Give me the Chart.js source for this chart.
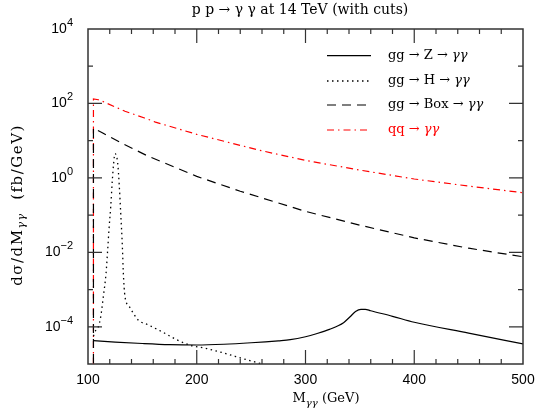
<!DOCTYPE html>
<html>
<head>
<meta charset="utf-8">
<script src="https://cdn.jsdelivr.net/npm/chart.js@4"></script>
<style>
  body { margin: 0; background: #fff; }
</style>
</head>
<body>
<canvas id="xsecChart" width="535" height="415"></canvas>
<script>
// gg -> Z -> yy (solid)
const massZ = [105, 125, 150, 175, 200, 225, 250, 275, 286, 300, 310, 322, 335, 341, 346, 351, 355, 360, 380, 400, 450, 500];
const xsecZ = [4.27e-5, 3.89e-5, 3.55e-5, 3.31e-5, 3.24e-5, 3.39e-5, 3.72e-5, 4.2e-5, 4.5e-5, 5.4e-5, 6.5e-5, 8.5e-5, 1.29e-4, 1.86e-4, 2.57e-4, 2.95e-4, 2.95e-4, 2.69e-4, 1.91e-4, 1.32e-4, 6.76e-5, 3.47e-5];

// gg -> H -> yy (dotted)
const massH = [105, 107, 109.5, 111.7, 114.1, 116.6, 118.1, 119.3, 120.9, 122.4, 123.6, 124.8, 127.3, 128.8, 130.1, 131.6, 132.5, 134, 138, 141.7, 146.3, 155.5, 167.8, 181.6, 193.8, 209.1, 221.4, 246, 260, 275];
const xsecH = [5.6e-5, 7.9e-5, 1.0e-4, 1.86e-4, 6.5e-4, 2.75e-3, 1.17e-2, 4.1e-2, 0.17, 0.89, 2.5, 4.5, 2.5, 0.59, 0.11, 1.45e-2, 2.75e-3, 6.5e-4, 3.5e-4, 2.3e-4, 1.5e-4, 1.12e-4, 7.4e-5, 4.5e-5, 3.2e-5, 2.6e-5, 2.1e-5, 1.3e-5, 1.0e-5, 7e-6];

// gg -> Box -> yy (dashed)
const massBox = [105, 105, 114, 130, 154, 200, 240, 258, 300, 350, 400, 450, 500];
const xsecBox = [1e-9, 21.9, 15.8, 8.9, 3.98, 1.10, 0.437, 0.302, 0.126, 0.0537, 0.0245, 0.0129, 0.00759];

// qq -> yy (red dash-dot)
const massQQ = [105, 105, 109.5, 114, 117, 134, 152, 162, 200, 258, 300, 350, 400, 450, 500];
const xsecQQ = [1e-9, 132, 126, 112, 102, 61.7, 40.7, 31.6, 14.8, 5.5, 2.95, 1.62, 0.933, 0.603, 0.398];

const xMajor = [200, 300, 400];
const xMinor = [120, 140, 160, 180, 220, 240, 260, 280, 320, 340, 360, 380, 420, 440, 460, 480];
const yMajor = [1e-4, 1e-2, 1, 1e2];
const yMinor = [1e-3, 1e-1, 1e1, 1e3];
const yLabelValues = [1e4, 1e2, 1, 1e-2, 1e-4];
const yLabelExps = ["4", "2", "0", "\u22122", "\u22124"];

const legendLabels = [
  { main: "gg \u2192 Z \u2192 ", tail: "\u03b3\u03b3" },
  { main: "gg \u2192 H \u2192 ", tail: "\u03b3\u03b3" },
  { main: "gg \u2192 Box \u2192 ", tail: "\u03b3\u03b3" },
  { main: "qq \u2192 ", tail: "\u03b3\u03b3" },
];

const toPoints = (xs, ys) => xs.map((x, i) => ({ x: x, y: ys[i] }));

const SERIF = "'DejaVu Serif', serif";
const SANS = "'Liberation Sans', Arial, sans-serif";

// draws a list of text pieces, each with own font and vertical shift
function drawPieces(ctx, pieces, x, y, align) {
  let total = 0;
  pieces.forEach((p) => {
    ctx.font = p.font;
    p.w = ctx.measureText(p.t).width;
    total += p.w;
  });
  let cx = align === "center" ? x - total / 2 : align === "right" ? x - total : x;
  pieces.forEach((p) => {
    ctx.font = p.font;
    ctx.fillText(p.t, cx, y + (p.dy || 0));
    cx += p.w;
  });
}

const framePlugin = {
  id: "frameAndLabels",
  afterDraw(chart) {
    const ctx = chart.ctx;
    const area = chart.chartArea;
    const xs = chart.scales.x;
    const ys = chart.scales.y;
    ctx.save();

    // frame
    ctx.strokeStyle = "#333";
    ctx.lineWidth = 1.5;
    ctx.strokeRect(area.left, area.top, area.right - area.left, area.bottom - area.top);

    // inward ticks
    ctx.lineWidth = 1.2;
    ctx.beginPath();
    const xTick = (v, len) => {
      const px = xs.getPixelForValue(v);
      ctx.moveTo(px, area.bottom);
      ctx.lineTo(px, area.bottom - len);
      ctx.moveTo(px, area.top);
      ctx.lineTo(px, area.top + len);
    };
    const yTick = (v, len) => {
      const py = ys.getPixelForValue(v);
      ctx.moveTo(area.left, py);
      ctx.lineTo(area.left + len, py);
      ctx.moveTo(area.right, py);
      ctx.lineTo(area.right - len, py);
    };
    xMajor.forEach((v) => xTick(v, 14));
    xMinor.forEach((v) => xTick(v, 5));
    yMajor.forEach((v) => yTick(v, 14));
    yMinor.forEach((v) => yTick(v, 5));
    ctx.stroke();

    ctx.fillStyle = "#000";
    ctx.textBaseline = "middle";

    // y tick labels with superscripts
    yLabelValues.forEach((v, i) => {
      const py = ys.getPixelForValue(v);
      drawPieces(ctx, [
        { t: "10", font: "14px " + SANS },
        { t: yLabelExps[i], font: "11px " + SANS, dy: -6 },
      ], area.left - 15, py, "right");
    });

    // title
    drawPieces(ctx, [
      { t: "p p \u2192 \u03b3 \u03b3 at 14 TeV (with cuts)", font: "14px " + SERIF },
    ], 300, 10, "center");

    // x axis title
    drawPieces(ctx, [
      { t: "M", font: "13px " + SERIF },
      { t: "\u03b3\u03b3", font: "italic 10px " + SERIF, dy: 4 },
      { t: " (GeV)", font: "13px " + SERIF },
    ], 326, 399, "center");

    // y axis title
    ctx.save();
    ctx.translate(18, 205);
    ctx.rotate(-Math.PI / 2);
    ctx.letterSpacing = "1.5px";
    drawPieces(ctx, [
      { t: "d\u03c3/dM", font: "15px " + SERIF },
      { t: "\u03b3\u03b3", font: "italic 11px " + SERIF, dy: 4 },
      { t: "  (fb/GeV)", font: "15px " + SERIF },
    ], 0, 0, "center");
    ctx.restore();

    // legend
    const rows = [26.7, 52, 76, 101];
    chart.data.datasets.forEach((ds, i) => {
      const ly = area.top + rows[i];
      ctx.strokeStyle = ds.borderColor;
      ctx.lineWidth = ds.borderWidth;
      ctx.setLineDash(ds.borderDash || []);
      ctx.beginPath();
      ctx.moveTo(area.left + 239, ly);
      ctx.lineTo(area.left + 283, ly);
      ctx.stroke();
      ctx.setLineDash([]);
      ctx.fillStyle = ds.borderColor;
      drawPieces(ctx, [
        { t: legendLabels[i].main, font: "13px " + SERIF },
        { t: legendLabels[i].tail, font: "italic 13px " + SERIF },
      ], area.left + 300, ly, "left");
    });

    ctx.restore();
  },
};

const ctx = document.getElementById("xsecChart");

new Chart(ctx, {
  type: "line",
  data: {
    datasets: [
      {
        label: "gg -> Z -> yy",
        data: toPoints(massZ, xsecZ),
        borderColor: "#000",
        borderWidth: 1.2,
        cubicInterpolationMode: "monotone",
      },
      {
        label: "gg -> H -> yy",
        data: toPoints(massH, xsecH),
        borderColor: "#000",
        borderWidth: 1.3,
        borderDash: [1.5, 3.5],
        cubicInterpolationMode: "monotone",
      },
      {
        label: "gg -> Box -> yy",
        data: toPoints(massBox, xsecBox),
        borderColor: "#000",
        borderWidth: 1.2,
        borderDash: [9, 6],
        tension: 0,
      },
      {
        label: "qq -> yy",
        data: toPoints(massQQ, xsecQQ),
        borderColor: "#ff0000",
        borderWidth: 1.2,
        borderDash: [7, 4, 1.5, 4],
        tension: 0,
      },
    ],
  },
  options: {
    responsive: false,
    animation: false,
    devicePixelRatio: 1,
    layout: {
      padding: { left: 0, right: 12, top: 29, bottom: 0 },
    },
    elements: {
      point: { radius: 0 },
    },
    plugins: {
      legend: { display: false },
      tooltip: { enabled: false },
    },
    scales: {
      x: {
        type: "linear",
        min: 100,
        max: 500,
        grid: { display: false, drawTicks: false },
        border: { display: false },
        ticks: {
          stepSize: 100,
          padding: 8,
          color: "#000",
          maxRotation: 0,
          font: { family: "'Liberation Sans', Arial, sans-serif", size: 14 },
        },
        afterFit: (scale) => {
          scale.height = 51;
          scale.paddingLeft = 0;
          scale.paddingRight = 0;
        },
      },
      y: {
        type: "logarithmic",
        min: 1e-5,
        max: 1e4,
        grid: { display: false, drawTicks: false },
        border: { display: false },
        ticks: { display: false },
        afterFit: (scale) => {
          scale.width = 88;
        },
      },
    },
  },
  plugins: [framePlugin],
});
</script>
</body>
</html>
